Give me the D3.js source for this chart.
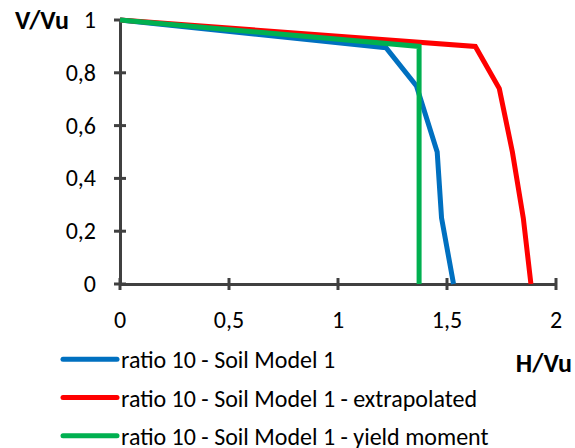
<!DOCTYPE html>
<html>
<head>
<meta charset="utf-8">
<title>V/Vu vs H/Vu</title>
<script src="https://cdn.jsdelivr.net/npm/d3@7"></script>
<style>
    body { margin: 0; background: #fff; overflow: hidden; }
    text { font-family: Carlito, 'Liberation Sans', Arial, sans-serif; fill: #000; }
</style>
</head>
<body>
<div id="container"></div>
<script>
    // series: [H/Vu, V/Vu]
    var seriesNames = ["ratio 10 - Soil Model 1",
                       "ratio 10 - Soil Model 1 - extrapolated",
                       "ratio 10 - Soil Model 1 - yield moment"];
    var seriesColors = ["#0070c0", "#ff0000", "#00b050"];
    var soilModel = [[0, 1], [1.22, 0.895], [1.36, 0.75], [1.455, 0.5], [1.475, 0.25], [1.53, 0]];
    var extrapolated = [[0, 1], [1.63, 0.9], [1.74, 0.74], [1.8, 0.5], [1.85, 0.25], [1.885, 0]];
    var yieldMoment = [[0, 1], [1.372, 0.9], [1.372, 0]];
    var xTicks = [0, 0.5, 1, 1.5, 2];
    var yTicks = [0, 0.2, 0.4, 0.6, 0.8, 1];

    var width = 575, height = 448;
    var svg = d3.select("#container").append("svg")
        .attr("width", width).attr("height", height);

    var x = d3.scaleLinear().domain([0, 2]).range([120, 556]);
    var y = d3.scaleLinear().domain([0, 1]).range([284, 20]);
    var fmt = function (d) { return String(d).replace(".", ","); };

    var axisColor = "#404040";

    // axes
    var xAxis = svg.append("g").attr("transform", "translate(0," + y(0) + ")")
        .call(d3.axisBottom(x).tickValues(xTicks).tickSize(0).tickFormat(""));
    var yAxis = svg.append("g").attr("transform", "translate(" + x(0) + ",0)")
        .call(d3.axisLeft(y).tickValues(yTicks).tickSize(0).tickFormat(""));
    [xAxis, yAxis].forEach(function (g) {
        g.select(".domain").attr("stroke", axisColor).attr("stroke-width", 3);
    });

    // cross ticks
    svg.append("g").selectAll("line").data(xTicks).join("line")
        .attr("x1", x).attr("x2", x)
        .attr("y1", y(0) - 6).attr("y2", y(0) + 6)
        .attr("stroke", axisColor).attr("stroke-width", 3);
    svg.append("g").selectAll("line").data(yTicks).join("line")
        .attr("x1", x(0) - 6).attr("x2", x(0) + 6)
        .attr("y1", y).attr("y2", y)
        .attr("stroke", axisColor).attr("stroke-width", 3);

    // tick labels
    svg.append("g").selectAll("text").data(xTicks).join("text")
        .attr("x", x).attr("y", 328)
        .attr("text-anchor", "middle").attr("font-size", 24)
        .text(fmt);
    svg.append("g").selectAll("text").data(yTicks).join("text")
        .attr("x", 96).attr("y", function (d) { return y(d) + 8; })
        .attr("text-anchor", "end").attr("font-size", 24)
        .text(fmt);

    // axis titles
    svg.append("text").attr("x", 15).attr("y", 29)
        .attr("font-size", 26).attr("font-weight", "bold").text("V/Vu");
    svg.append("text").attr("x", 572).attr("y", 372).attr("text-anchor", "end")
        .attr("font-size", 26).attr("font-weight", "bold").text("H/Vu");

    // series
    var line = d3.line().x(function (d) { return x(d[0]); }).y(function (d) { return y(d[1]); });
    var allSeries = [soilModel, extrapolated, yieldMoment];
    svg.append("g").selectAll("path").data(allSeries).join("path")
        .attr("d", line)
        .attr("fill", "none")
        .attr("stroke", function (d, i) { return seriesColors[i]; })
        .attr("stroke-width", 5)
        .attr("stroke-linejoin", "miter");

    // legend
    var legend = svg.append("g").selectAll("g").data(seriesNames).join("g")
        .attr("transform", function (d, i) { return "translate(0," + (359.3 + i * 38.2) + ")"; });
    legend.append("line")
        .attr("x1", 63).attr("x2", 117).attr("y1", 0).attr("y2", 0)
        .attr("stroke", function (d, i) { return seriesColors[i]; })
        .attr("stroke-width", 5).attr("stroke-linecap", "round");
    legend.append("text").attr("x", 121).attr("y", 9)
        .attr("font-size", 24).text(function (d) { return d; });
</script>
</body>
</html>
